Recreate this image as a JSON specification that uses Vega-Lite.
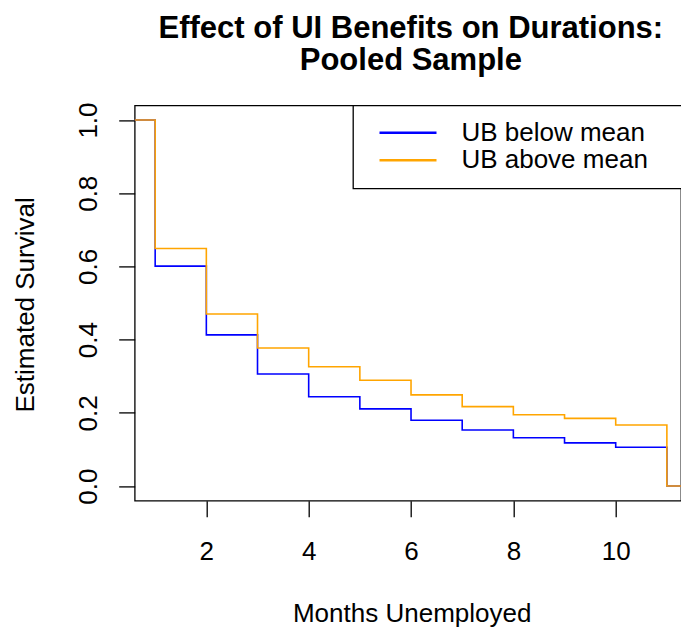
{
  "$schema": "https://vega.github.io/schema/vega-lite/v6.json",
  "autosize": {"type": "none"},
  "padding": {"left": 134.7, "top": 105.4, "right": 0, "bottom": 132.3},
  "width": 546.3,
  "height": 395.3,
  "background": "white",
  "title": {
    "text": ["Effect of UI Benefits on Durations:", "Pooled Sample"],
    "font": "Liberation Sans",
    "fontSize": 31,
    "fontWeight": "bold",
    "color": "black",
    "lineHeight": 32,
    "anchor": "middle",
    "frame": "group",
    "baseline": "alphabetic",
    "offset": 0.9,
    "dx": 3
  },
  "data": {
    "values": [
      {"month": 0, "survival": 1.0, "group": "UB below mean"},
      {"month": 1, "survival": 0.601, "group": "UB below mean"},
      {"month": 2, "survival": 0.413, "group": "UB below mean"},
      {"month": 3, "survival": 0.306, "group": "UB below mean"},
      {"month": 4, "survival": 0.244, "group": "UB below mean"},
      {"month": 5, "survival": 0.211, "group": "UB below mean"},
      {"month": 6, "survival": 0.180, "group": "UB below mean"},
      {"month": 7, "survival": 0.153, "group": "UB below mean"},
      {"month": 8, "survival": 0.132, "group": "UB below mean"},
      {"month": 9, "survival": 0.118, "group": "UB below mean"},
      {"month": 10, "survival": 0.106, "group": "UB below mean"},
      {"month": 11, "survival": 0.0, "group": "UB below mean"},
      {"month": 12, "survival": 0.0, "group": "UB below mean"},
      {"month": 0, "survival": 1.0, "group": "UB above mean"},
      {"month": 1, "survival": 0.649, "group": "UB above mean"},
      {"month": 2, "survival": 0.470, "group": "UB above mean"},
      {"month": 3, "survival": 0.377, "group": "UB above mean"},
      {"month": 4, "survival": 0.326, "group": "UB above mean"},
      {"month": 5, "survival": 0.289, "group": "UB above mean"},
      {"month": 6, "survival": 0.249, "group": "UB above mean"},
      {"month": 7, "survival": 0.217, "group": "UB above mean"},
      {"month": 8, "survival": 0.195, "group": "UB above mean"},
      {"month": 9, "survival": 0.185, "group": "UB above mean"},
      {"month": 10, "survival": 0.167, "group": "UB above mean"},
      {"month": 11, "survival": 0.0, "group": "UB above mean"},
      {"month": 12, "survival": 0.0, "group": "UB above mean"}
    ]
  },
  "mark": {"type": "line", "interpolate": "step-after", "strokeWidth": 1.6, "clip": true},
  "encoding": {
    "x": {
      "field": "month",
      "type": "quantitative",
      "scale": {"domain": [0.6, 11.276], "nice": false, "zero": false},
      "axis": {
        "title": "Months Unemployed",
        "values": [2, 4, 6, 8, 10],
        "format": "d",
        "titleX": 277,
        "titleY": 120.5,
        "titleBaseline": "alphabetic",
        "titleAlign": "center",
        "labelBaseline": "alphabetic",
        "labelPadding": 42.3
      }
    },
    "y": {
      "field": "survival",
      "type": "quantitative",
      "scale": {"domain": [-0.04, 1.04], "nice": false, "zero": false},
      "axis": {
        "title": "Estimated Survival",
        "values": [0, 0.2, 0.4, 0.6, 0.8, 1.0],
        "format": ".1f",
        "labelAngle": -90,
        "labelAlign": "center",
        "labelBaseline": "alphabetic",
        "labelPadding": 22.7,
        "titleAngle": -90,
        "titleX": -101.2,
        "titleY": 199,
        "titleBaseline": "alphabetic",
        "titleAlign": "center"
      }
    },
    "color": {
      "field": "group",
      "type": "nominal",
      "sort": ["UB below mean", "UB above mean"],
      "scale": {"domain": ["UB below mean", "UB above mean"], "range": ["#0000FF", "#FFA500"]},
      "legend": {
        "title": "\u00a0",
        "titleOrient": "right",
        "titlePadding": 30,
        "titleFontSize": 26,
        "orient": "none",
        "legendX": 218.3,
        "legendY": 0,
        "direction": "vertical",
        "symbolType": "M-3,0H3",
        "symbolSize": 361,
        "symbolStrokeWidth": 2.5,
        "symbolOffset": 27.7,
        "labelOffset": 40.4,
        "padding": 14.3,
        "rowPadding": 1.6,
        "strokeColor": "black",
        "fillColor": "white"
      }
    }
  },
  "config": {
    "font": "Liberation Sans",
    "view": {"stroke": "black", "strokeWidth": 1.3},
    "axis": {
      "domain": false,
      "grid": false,
      "ticks": true,
      "tickColor": "black",
      "tickSize": 16,
      "tickWidth": 1.3,
      "labelFont": "Liberation Sans",
      "labelFontSize": 26,
      "labelColor": "black",
      "titleFont": "Liberation Sans",
      "titleFontSize": 26,
      "titleFontWeight": "normal",
      "titleColor": "black",
      "labelOverlap": false,
      "labelFlush": false
    },
    "legend": {
      "labelFont": "Liberation Sans",
      "labelFontSize": 26,
      "labelColor": "black",
      "labelLimit": 0,
      "strokeWidth": 1.3
    }
  }
}
